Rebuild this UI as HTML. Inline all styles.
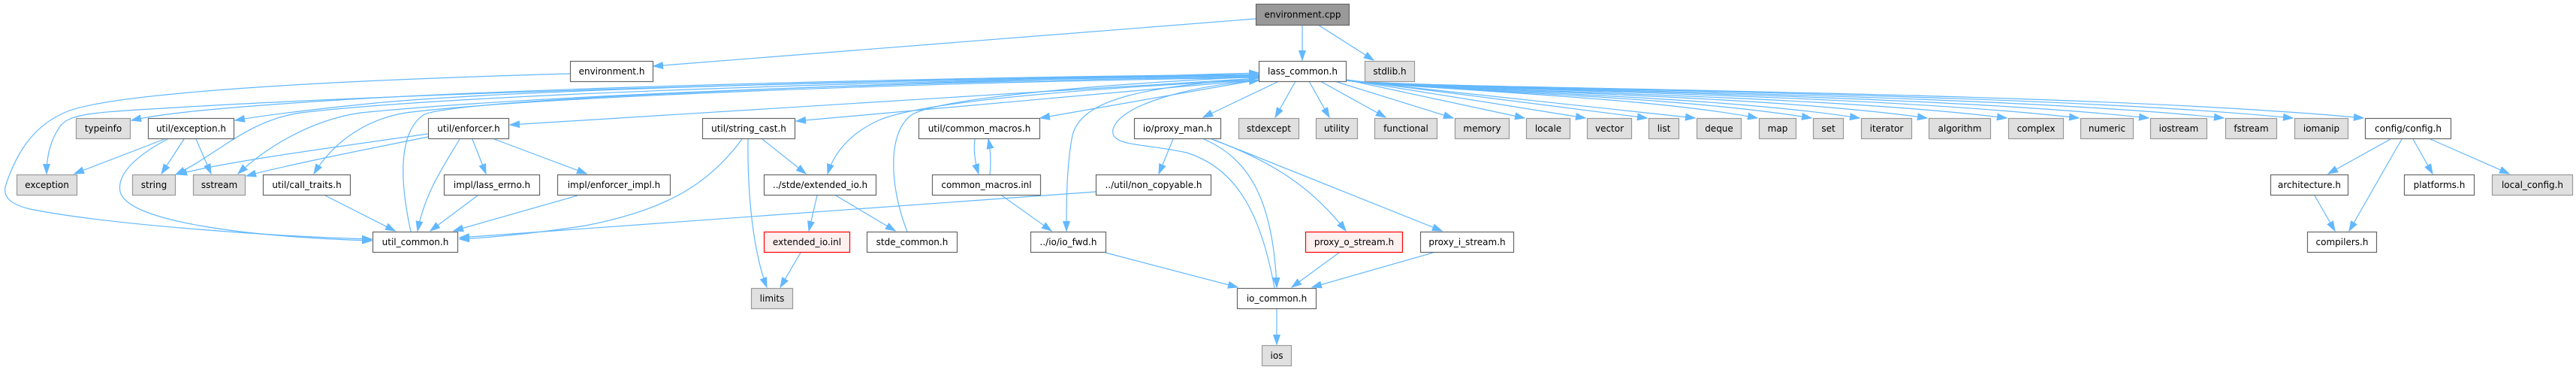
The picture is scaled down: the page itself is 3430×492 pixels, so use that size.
<!DOCTYPE html>
<html>
<head>
<meta charset="utf-8">
<style>
html,body{margin:0;padding:0;background:#fff;}
svg{display:block;}
text{font-family:"DejaVu Sans","Liberation Sans",sans-serif;font-size:12px;fill:#000;}
.e{fill:none;stroke:#63B8FF;stroke-width:1.2;marker-end:url(#a);}
.w{fill:#fff;stroke:#666;stroke-width:1.2;}
.g{fill:#E0E0E0;stroke:#999;stroke-width:1.2;}
.r{fill:#FFF0F0;stroke:#F00;stroke-width:1.2;}
.root{fill:#999;stroke:#666;stroke-width:1.2;}
</style>
</head>
<body>
<svg width="3430" height="492" viewBox="0 0 3430 492" xmlns="http://www.w3.org/2000/svg">
<defs>
<marker id="a" markerWidth="14" markerHeight="11" refX="13" refY="5" orient="auto" markerUnits="userSpaceOnUse">
<path d="M0,0.5 L13,5 L0,9.5 z" fill="#63B8FF" stroke="#63B8FF" stroke-width="1"/>
</marker>
</defs>

<!-- edges -->
<g>
<path class="e" d="M1734,33 L1734,80"/>
<path class="e" d="M1755,33 L1829,80"/>
<path class="e" d="M1672,25 L870,88"/>
<path class="e" d="M759,98 C400,108 150,125 90,148 C40,168 20,210 8,245 C2,262 15,272 40,278 C150,300 380,315 495,318"/>
<path class="e" d="M223,185 C185,205 155,230 160,255 C170,295 330,315 495,320"/>
<path class="e" d="M1676,99 C1300,102 700,116 420,135 C300,143 220,150 175,160"/>
<path class="e" d="M1676,100 C1300,103 700,118 500,137 C420,145 360,152 313,160"/>
<path class="e" d="M1676,100 C1300,104 600,120 200,145 C120,150 92,152 80,168 C68,185 62,205 62,231"/>
<path class="e" d="M1676,101 C1200,106 600,126 400,150 C330,160 290,205 234,232"/>
<path class="e" d="M1676,102 C1200,108 700,128 480,150 C410,160 350,200 317,231"/>
<path class="e" d="M1676,103 C1200,110 700,130 540,150 C480,160 440,195 418,231"/>
<path class="e" d="M1676,104 L679,166"/>
<path class="e" d="M1676,106 L1060,161"/>
<path class="e" d="M1676,106 C1400,120 1220,138 1170,160 C1130,178 1110,205 1102,231"/>
<path class="e" d="M1676,106 L1385,157"/>
<path class="e" d="M1676,104 C1530,115 1440,130 1428,180 C1420,220 1420,270 1420,307"/>
<path class="e" d="M1703,108 L1602,156"/>
<path class="e" d="M1725,108 L1698,156"/>
<path class="e" d="M1743,108 L1770,156"/>
<path class="e" d="M1758,108 L1845,156"/>
<path class="e" d="M1777,108 L1935,157"/>
<path class="e" d="M1792,106 L2030,157"/>
<path class="e" d="M1792,106 L2111,157"/>
<path class="e" d="M1792,106 L2193,157"/>
<path class="e" d="M1792,107 L2257,157"/>
<path class="e" d="M1792,107 C1950,122 2200,130 2340,157"/>
<path class="e" d="M1792,107 C1900,121 2226,126 2412,157"/>
<path class="e" d="M1792,107 C1900,121 2271,125 2476,157"/>
<path class="e" d="M1792,107 C1900,121 2334,124 2566,157"/>
<path class="e" d="M1792,107 C1900,121 2408,124 2672,157"/>
<path class="e" d="M1792,107 C1900,120 2475,123 2768,157"/>
<path class="e" d="M1792,107 C1900,120 2540,122 2861,157"/>
<path class="e" d="M1792,107 C1900,120 2610,121 2961,157"/>
<path class="e" d="M1792,107 C1900,119 2675,120 3053,157"/>
<path class="e" d="M1792,107 C1900,119 2741,119 3147,157"/>
<path class="e" d="M547,308 C532,240 530,175 565,152 C620,130 1200,110 1676,97"/>
<path class="e" d="M1208,308 C1185,250 1180,175 1215,152 C1260,128 1500,110 1676,102"/>
<path class="e" d="M1697,383 C1680,290 1650,225 1580,203 C1520,190 1478,195 1482,172 C1490,140 1580,115 1676,107"/>
<path class="e" d="M219,185 L99,231"/>
<path class="e" d="M245,185 L215,231"/>
<path class="e" d="M261,185 L281,231"/>
<path class="e" d="M570,178 C450,195 300,215 236,232"/>
<path class="e" d="M570,182 C480,200 380,220 328,234"/>
<path class="e" d="M612,185 C585,230 565,260 556,307"/>
<path class="e" d="M629,185 L647,231"/>
<path class="e" d="M658,185 L781,231"/>
<path class="e" d="M433,260 L526,307"/>
<path class="e" d="M636,260 L573,307"/>
<path class="e" d="M769,260 L604,307"/>
<path class="e" d="M988,185 C940,250 880,280 780,300 C700,312 650,316 612,318"/>
<path class="e" d="M1459,255 L612,316"/>
<path class="e" d="M1603,185 C1660,210 1695,260 1700,382"/>
<path class="e" d="M1562,185 L1543,231"/>
<path class="e" d="M1613,185 C1680,210 1740,240 1792,307"/>
<path class="e" d="M1617,186 L1920,307"/>
<path class="e" d="M1472,336 L1648,382"/>
<path class="e" d="M1783,336 L1720,382"/>
<path class="e" d="M1908,336 L1747,382"/>
<path class="e" d="M1700,411 L1700,458"/>
<path class="e" d="M1015,185 L1073,231"/>
<path class="e" d="M996,185 C995,270 1005,340 1021,382"/>
<path class="e" d="M1088,260 L1077,307"/>
<path class="e" d="M1113,260 L1192,307"/>
<path class="e" d="M1066,336 L1039,382"/>
<path class="e" d="M1298,185 C1296,200 1298,215 1303,231"/>
<path class="e" d="M1318,232 C1320,215 1319,200 1316,185"/>
<path class="e" d="M1334,260 L1400,307"/>
<path class="e" d="M3183,185 L3100,231"/>
<path class="e" d="M3198,185 L3128,307"/>
<path class="e" d="M3213,185 L3239,231"/>
<path class="e" d="M3236,185 L3341,231"/>
<path class="e" d="M3082,260 L3109,307"/>
</g>

<!-- nodes -->
<g text-anchor="middle">
<rect class="root" x="1672.5" y="5.5" width="124" height="28"/><text x="1734.5" y="23.5">environment.cpp</text>

<rect class="w" x="759.5" y="81.5" width="110" height="27"/><text x="814.5" y="99">environment.h</text>
<rect class="w" x="1676.5" y="81.5" width="116" height="27"/><text x="1734.5" y="99">lass_common.h</text>
<rect class="g" x="1817.5" y="81.5" width="66" height="27"/><text x="1850.5" y="99">stdlib.h</text>

<rect class="g" x="101.5" y="157.5" width="72" height="27"/><text x="137.5" y="175">typeinfo</text>
<rect class="w" x="197.5" y="157.5" width="114" height="27"/><text x="254.5" y="175">util/exception.h</text>
<rect class="w" x="570.5" y="157.5" width="107" height="27"/><text x="624" y="175">util/enforcer.h</text>
<rect class="w" x="935.5" y="157.5" width="123" height="27"/><text x="997" y="175">util/string_cast.h</text>
<rect class="w" x="1223.5" y="157.5" width="161" height="27"/><text x="1304" y="175">util/common_macros.h</text>
<rect class="w" x="1510.5" y="157.5" width="115" height="27"/><text x="1568" y="175">io/proxy_man.h</text>
<rect class="g" x="1649.5" y="157.5" width="80" height="27"/><text x="1689.5" y="175">stdexcept</text>
<rect class="g" x="1752.5" y="157.5" width="55" height="27"/><text x="1780" y="175">utility</text>
<rect class="g" x="1830.5" y="157.5" width="83" height="27"/><text x="1872" y="175">functional</text>
<rect class="g" x="1937.5" y="157.5" width="72" height="27"/><text x="1973.5" y="175">memory</text>
<rect class="g" x="2032.5" y="157.5" width="58" height="27"/><text x="2061.5" y="175">locale</text>
<rect class="g" x="2113.5" y="157.5" width="59" height="27"/><text x="2143" y="175">vector</text>
<rect class="g" x="2195.5" y="157.5" width="40" height="27"/><text x="2215.5" y="175">list</text>
<rect class="g" x="2259.5" y="157.5" width="59" height="27"/><text x="2289" y="175">deque</text>
<rect class="g" x="2342.5" y="157.5" width="49" height="27"/><text x="2367" y="175">map</text>
<rect class="g" x="2414.5" y="157.5" width="40" height="27"/><text x="2434.5" y="175">set</text>
<rect class="g" x="2478.5" y="157.5" width="67" height="27"/><text x="2512" y="175">iterator</text>
<rect class="g" x="2568.5" y="157.5" width="82" height="27"/><text x="2609.5" y="175">algorithm</text>
<rect class="g" x="2674.5" y="157.5" width="73" height="27"/><text x="2711" y="175">complex</text>
<rect class="g" x="2770.5" y="157.5" width="70" height="27"/><text x="2805.5" y="175">numeric</text>
<rect class="g" x="2863.5" y="157.5" width="75" height="27"/><text x="2901" y="175">iostream</text>
<rect class="g" x="2963.5" y="157.5" width="68" height="27"/><text x="2997.5" y="175">fstream</text>
<rect class="g" x="3055.5" y="157.5" width="71" height="27"/><text x="3091" y="175">iomanip</text>
<rect class="w" x="3149.5" y="157.5" width="114" height="27"/><text x="3206.5" y="175">config/config.h</text>

<rect class="g" x="22.5" y="232.5" width="80" height="27"/><text x="62.5" y="250">exception</text>
<rect class="g" x="176.5" y="232.5" width="57" height="27"/><text x="205" y="250">string</text>
<rect class="g" x="257.5" y="232.5" width="69" height="27"/><text x="292" y="250">sstream</text>
<rect class="w" x="350.5" y="232.5" width="116" height="27"/><text x="408.5" y="250">util/call_traits.h</text>
<rect class="w" x="591.5" y="232.5" width="127" height="27"/><text x="655" y="250">impl/lass_errno.h</text>
<rect class="w" x="742.5" y="232.5" width="150" height="27"/><text x="817.5" y="250">impl/enforcer_impl.h</text>
<rect class="w" x="1017.5" y="232.5" width="149" height="27"/><text x="1092" y="250">../stde/extended_io.h</text>
<rect class="w" x="1241.5" y="232.5" width="144" height="27"/><text x="1313.5" y="250">common_macros.inl</text>
<rect class="w" x="1459.5" y="232.5" width="153" height="27"/><text x="1536" y="250">../util/non_copyable.h</text>
<rect class="w" x="3023.5" y="232.5" width="103" height="27"/><text x="3075" y="250">architecture.h</text>
<rect class="w" x="3201.5" y="232.5" width="93" height="27"/><text x="3248" y="250">platforms.h</text>
<rect class="g" x="3318.5" y="232.5" width="107" height="27"/><text x="3372" y="250">local_config.h</text>

<rect class="w" x="496.5" y="308.5" width="113" height="27"/><text x="553" y="326">util_common.h</text>
<rect class="r" x="1017.5" y="308.5" width="114" height="27"/><text x="1074.5" y="326">extended_io.inl</text>
<rect class="w" x="1154.5" y="308.5" width="120" height="27"/><text x="1214.5" y="326">stde_common.h</text>
<rect class="w" x="1372.5" y="308.5" width="100" height="27"/><text x="1422.5" y="326">../io/io_fwd.h</text>
<rect class="r" x="1738.5" y="308.5" width="129" height="27"/><text x="1803" y="326">proxy_o_stream.h</text>
<rect class="w" x="1891.5" y="308.5" width="124" height="27"/><text x="1953.5" y="326">proxy_i_stream.h</text>
<rect class="w" x="3072.5" y="308.5" width="92" height="27"/><text x="3118.5" y="326">compilers.h</text>

<rect class="g" x="1000.5" y="383.5" width="55" height="27"/><text x="1028" y="401">limits</text>
<rect class="w" x="1647.5" y="383.5" width="105" height="27"/><text x="1700" y="401">io_common.h</text>

<rect class="g" x="1680.5" y="459.5" width="39" height="27"/><text x="1700" y="477">ios</text>
</g>
</svg>
</body>
</html>
